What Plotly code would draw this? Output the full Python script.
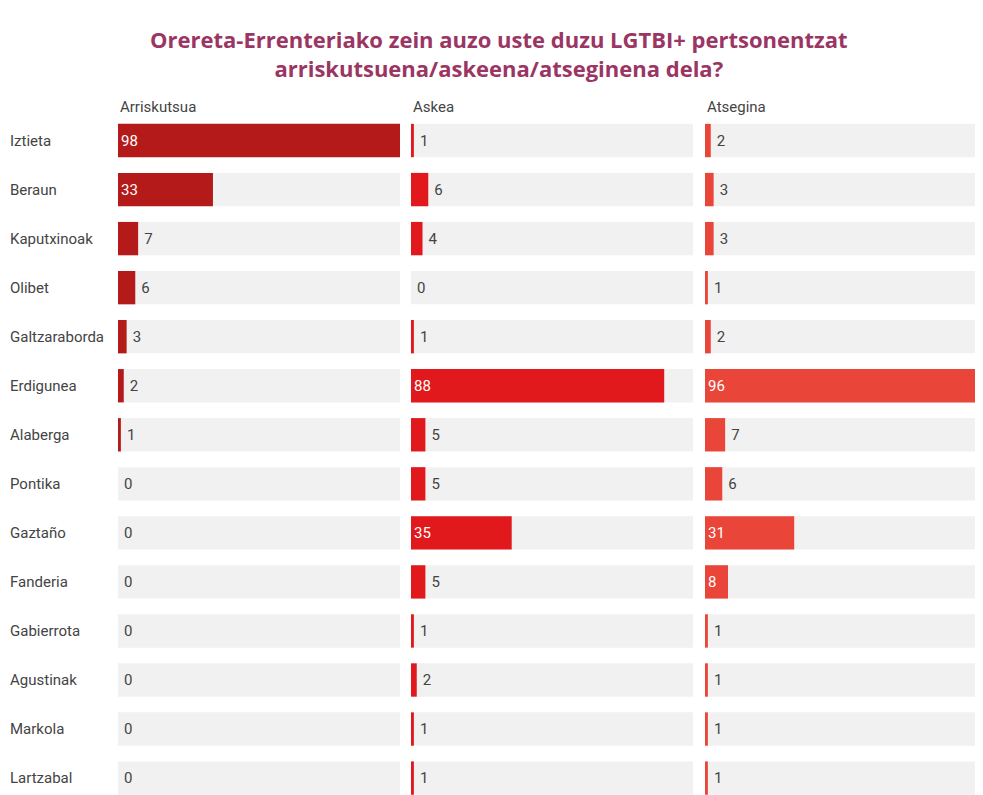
import plotly.graph_objects as go

neighbourhoods = ["Iztieta", "Beraun", "Kaputxinoak", "Olibet", "Galtzaraborda", "Erdigunea",
                  "Alaberga", "Pontika", "Gaztaño", "Fanderia", "Gabierrota", "Agustinak",
                  "Markola", "Lartzabal"]
arriskutsua = [98, 33, 7, 6, 3, 2, 1, 0, 0, 0, 0, 0, 0, 0]
askea = [1, 6, 4, 0, 1, 88, 5, 5, 35, 5, 1, 2, 1, 1]
atsegina = [2, 3, 3, 1, 2, 96, 7, 6, 31, 8, 1, 1, 1, 1]
column_titles = ["Arriskutsua", "Askea", "Atsegina"]
series = [arriskutsua, askea, atsegina]
colors = ["#b51a1b", "#e2191c", "#ea4539"]

title = ("Orereta-Errenteriako zein auzo uste duzu LGTBI+ pertsonentzat<br>"
         "arriskutsuena/askeena/atseginena dela?")

full_scale = max(max(s) for s in series)

domains = [[0.11282, 0.40205], [0.41333, 0.70256], [0.71487, 1.0]]
ranges = [[0, full_scale], [0, full_scale], [0, full_scale * 278 / 282]]

FS = 15
fig = go.Figure()
for i, (vals, col) in enumerate(zip(series, colors)):
    xa = "x" if i == 0 else f"x{i+1}"
    fig.add_trace(go.Bar(
        y=neighbourhoods, x=[full_scale] * len(neighbourhoods), orientation="h",
        marker=dict(color="#f1f1f1", line=dict(width=0)), width=0.68,
        xaxis=xa, yaxis="y", hoverinfo="skip", showlegend=False))
    inside = [v >= 8 for v in vals]
    fig.add_trace(go.Bar(
        y=neighbourhoods, x=vals, orientation="h",
        marker=dict(color=col, line=dict(width=0)), width=0.68,
        text=[str(v) for v in vals],
        texttemplate=["%{text}" if ins else "\u2009%{text}" for ins in inside],
        textposition=["inside" if ins else "outside" for ins in inside],
        insidetextanchor="start",
        insidetextfont=dict(color="white", size=FS, family="Roboto"),
        outsidetextfont=dict(color="#444444", size=FS, family="Roboto"),
        cliponaxis=False, constraintext="none",
        xaxis=xa, yaxis="y", showlegend=False))

layout = dict(
    width=975, height=787,
    margin=dict(l=0, r=0, t=107.5, b=0),
    paper_bgcolor="white", plot_bgcolor="white",
    barmode="overlay",
    font=dict(family="Roboto", size=FS, color="#444444"),
    yaxis=dict(categoryorder="array", categoryarray=neighbourhoods,
               range=[13.345, -0.5], showticklabels=False, showgrid=False,
               zeroline=False, showline=False),
)
annotations = [dict(text=title, xref="paper", x=0.504, xanchor="center",
                    yref="paper", y=1.092, yanchor="middle", showarrow=False,
                    font=dict(family="Open Sans", size=22, color="#9b3563", weight="bold"))]
for i in range(3):
    key = "xaxis" if i == 0 else f"xaxis{i+1}"
    layout[key] = dict(domain=domains[i], range=ranges[i], visible=False,
                       fixedrange=True, anchor="y")
    xr = "x" if i == 0 else f"x{i+1}"
    annotations.append(dict(text=column_titles[i], xref=f"{xr} domain", x=0, xanchor="left",
                            yref="paper", y=1, yanchor="bottom", yshift=-2,
                            showarrow=False, font=dict(size=FS, color="#444444")))
for n in neighbourhoods:
    annotations.append(dict(text=n, xref="paper", x=0, xanchor="left", yref="y", y=n,
                            showarrow=False, font=dict(size=FS, color="#444444")))
layout["annotations"] = annotations
fig.update_layout(**layout)
fig.write_html("out.html")
